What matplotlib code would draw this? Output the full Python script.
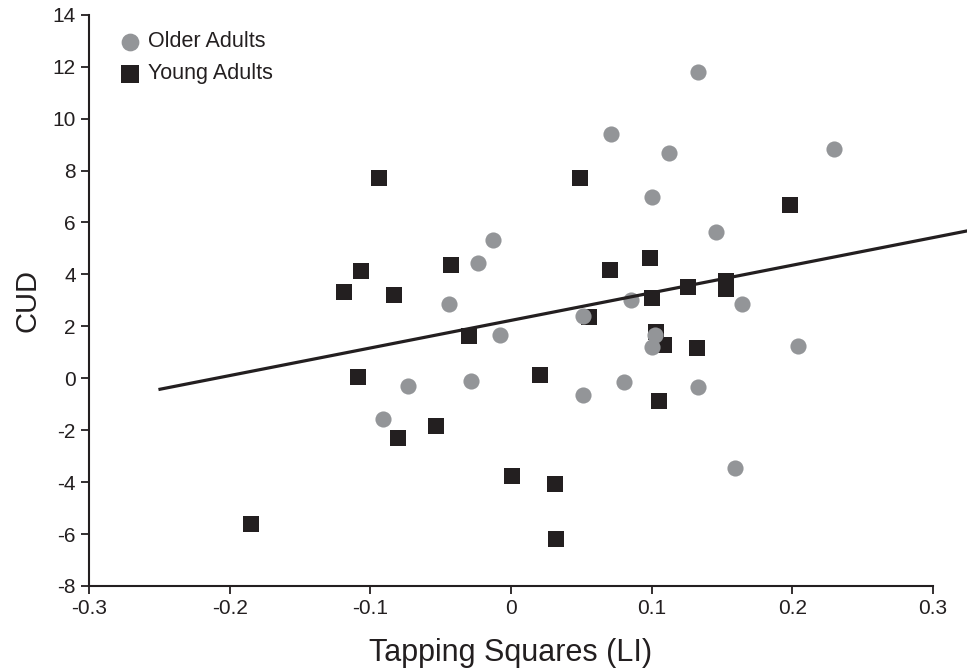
import matplotlib
matplotlib.use("Agg")
import matplotlib.pyplot as plt
from matplotlib import font_manager

older_x = [0.133, 0.071, 0.112, 0.2295, 0.1005, 0.1457, 0.085, 0.164, 0.102, 0.1005, 0.2038,
           0.080, 0.133, 0.1595, -0.0129, -0.0238, -0.0438, 0.0509, -0.008, -0.0736, -0.0284,
           0.051, -0.091]
older_y = [11.81, 9.42, 8.66, 8.84, 6.99, 5.64, 3.02, 2.87, 1.67, 1.21, 1.24,
           -0.15, -0.32, -3.44, 5.32, 4.43, 2.87, 2.38, 1.65, -0.28, -0.10,
           -0.66, -1.58]

young_x = [0.1986, 0.099, 0.070, 0.126, 0.153, 0.1526, 0.1005, 0.103, 0.1086, 0.132, 0.105,
           -0.0936, 0.0493, -0.1067, -0.0424, -0.1186, -0.0833, 0.0557, -0.030, -0.109,
           0.0207, -0.053, -0.0805, -0.1845, 0.0005, 0.031, 0.032]
young_y = [6.69, 4.63, 4.17, 3.50, 3.76, 3.44, 3.08, 1.79, 1.27, 1.16, -0.86,
           7.70, 7.73, 4.13, 4.37, 3.33, 3.20, 2.37, 1.62, 0.05,
           0.13, -1.83, -2.30, -5.61, -3.77, -4.06, -6.20]

line_x = [-0.2495, 0.33]
slope = 10.63
intercept = 2.23

xticks = [-0.3, -0.2, -0.1, 0, 0.1, 0.2, 0.3]
xtick_labels = ["-0.3", "-0.2", "-0.1", "0", "0.1", "0.2", "0.3"]
yticks = list(range(-8, 15, 2))

names = {f.name for f in font_manager.fontManager.ttflist}
narrow = "Liberation Sans Narrow" if "Liberation Sans Narrow" in names else "Liberation Sans"
plt.rcParams['font.family'] = ['Liberation Sans', 'DejaVu Sans']

fig = plt.figure(figsize=(9.67, 6.72), dpi=100)
ax = fig.add_axes([0.092, 0.128, 0.873, 0.850])

ax.scatter(older_x, older_y, s=135, marker='o', color='#939598', linewidths=0,
           label='Older Adults', zorder=3)
ax.scatter(young_x, young_y, s=135, marker='s', color='#231f20', linewidths=0,
           label='Young Adults', zorder=2)
ax.plot(line_x, [slope * v + intercept for v in line_x], color='#231f20', lw=2.3,
        clip_on=False, zorder=4)

ax.set_xlim(-0.3, 0.3)
ax.set_ylim(-8, 14)
ax.set_xticks(xticks)
ax.set_xticklabels(xtick_labels, fontfamily=narrow, fontsize=15)
ax.set_yticks(yticks)
ax.set_yticklabels([str(v) for v in yticks], fontfamily=narrow, fontsize=15)
ax.tick_params(direction='out', length=6, width=1.3, color='#231f20', labelcolor='#231f20')
for side in ['top', 'right']:
    ax.spines[side].set_visible(False)
for side in ['left', 'bottom']:
    ax.spines[side].set_linewidth(1.5)
    ax.spines[side].set_color('#231f20')

ax.set_xlabel('Tapping Squares (LI)', fontsize=22, fontfamily=narrow, color='#231f20', labelpad=14)
ax.set_ylabel('CUD', fontsize=21, fontfamily=narrow, color='#231f20', labelpad=8)

leg = ax.legend(loc='upper left', bbox_to_anchor=(0.023, 0.986), frameon=False,
                fontsize=15.5, handletextpad=0.25, labelspacing=0.5, borderaxespad=0,
                handlelength=1.2, labelcolor='#231f20', markerscale=1.1)

fig.savefig('out.png', dpi=100)
